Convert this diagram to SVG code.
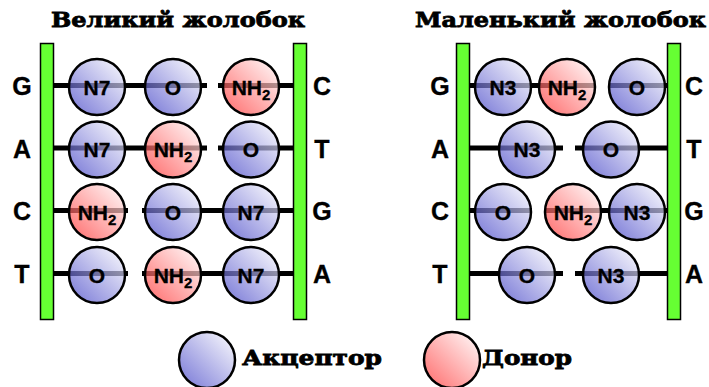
<svg xmlns="http://www.w3.org/2000/svg" width="709" height="387" viewBox="0 0 709 387">
<defs>
<linearGradient id="gb" x1="0" y1="1" x2="1" y2="0">
<stop offset="0" stop-color="#3a3ac4"/>
<stop offset="1" stop-color="#ffffff"/>
</linearGradient>
<linearGradient id="gr" x1="0" y1="1" x2="1" y2="0">
<stop offset="0" stop-color="#ff2a2a"/>
<stop offset="1" stop-color="#ffffff"/>
</linearGradient>
</defs>
<style>
.title{font-family:"DejaVu Serif","Liberation Serif",serif;font-weight:bold;font-size:21px;fill:#000;stroke:#000;stroke-width:0.8}
.base{font-family:"Liberation Sans",Arial,sans-serif;font-weight:bold;font-size:25px;fill:#000;text-anchor:middle;stroke:#000;stroke-width:0.3}
.lbl{font-family:"Liberation Sans",Arial,sans-serif;font-weight:bold;font-size:21px;fill:#000;text-anchor:middle;stroke:#000;stroke-width:0.3}
.sub{font-size:15px}
.bar{fill:#66ff33;stroke:#000;stroke-width:1.5}
.bond{stroke:#000;stroke-width:5;fill:none}
.acc{fill:url(#gb);fill-opacity:0.7;stroke:#000;stroke-width:2.5}
.don{fill:url(#gr);fill-opacity:0.7;stroke:#000;stroke-width:2.5}
</style>
<rect width="709" height="387" fill="#fff"/>
<text class="title" x="51" y="27" textLength="254" lengthAdjust="spacingAndGlyphs">Великий жолобок</text>
<text class="title" x="415" y="27" textLength="291" lengthAdjust="spacingAndGlyphs">Маленький жолобок</text>
<g id="connectors">
<path class="bond" d="M48 85.5H207M218 85.5H296M48 148H207M218 148H296M48 210.5H128M142 210.5H296M48 273.5H128M142 273.5H296"/>
<path class="bond" d="M462 85.5H594M610 85.5H672M462 148H563M575 148H672M462 210.5H532M545 210.5H672M462 273.5H563M575 273.5H672"/>
</g>
<g id="bars">
<rect class="bar" x="40.5" y="43.5" width="13" height="276"/>
<rect class="bar" x="293.5" y="43.5" width="13" height="276"/>
<rect class="bar" x="456.5" y="43.5" width="13" height="276"/>
<rect class="bar" x="667.5" y="43.5" width="13" height="276"/>
</g>
<g id="bases">
<text class="base" x="22" y="95">G</text>
<text class="base" x="22" y="158">A</text>
<text class="base" x="22" y="220">C</text>
<text class="base" x="22" y="283">T</text>
<text class="base" x="322" y="95">C</text>
<text class="base" x="322" y="158">T</text>
<text class="base" x="322" y="220">G</text>
<text class="base" x="322" y="283">A</text>
<text class="base" x="440" y="95">G</text>
<text class="base" x="440" y="158">A</text>
<text class="base" x="440" y="220">C</text>
<text class="base" x="440" y="283">T</text>
<text class="base" x="694" y="95">C</text>
<text class="base" x="694" y="158">T</text>
<text class="base" x="694" y="220">G</text>
<text class="base" x="694" y="283">A</text>
</g>
<g id="major-groove">
<g id="m1a"><circle class="acc" cx="97" cy="87" r="28"/><text class="lbl" x="97" y="94.5">N7</text></g>
<g id="m1b"><circle class="acc" cx="173" cy="87" r="28"/><text class="lbl" x="173" y="94.5">O</text></g>
<g id="m1c"><circle class="don" cx="251" cy="87" r="28"/><text class="lbl" x="251" y="94.5">NH<tspan class="sub" dy="5">2</tspan></text></g>
<g id="m2a"><circle class="acc" cx="97" cy="149.5" r="28"/><text class="lbl" x="97" y="157">N7</text></g>
<g id="m2b"><circle class="don" cx="173" cy="149.5" r="28"/><text class="lbl" x="173" y="157">NH<tspan class="sub" dy="5">2</tspan></text></g>
<g id="m2c"><circle class="acc" cx="251" cy="149.5" r="28"/><text class="lbl" x="251" y="157">O</text></g>
<g id="m3a"><circle class="don" cx="97" cy="212" r="28"/><text class="lbl" x="97" y="219.5">NH<tspan class="sub" dy="5">2</tspan></text></g>
<g id="m3b"><circle class="acc" cx="173" cy="212" r="28"/><text class="lbl" x="173" y="219.5">O</text></g>
<g id="m3c"><circle class="acc" cx="251" cy="212" r="28"/><text class="lbl" x="251" y="219.5">N7</text></g>
<g id="m4a"><circle class="acc" cx="97" cy="275" r="28"/><text class="lbl" x="97" y="282.5">O</text></g>
<g id="m4b"><circle class="don" cx="173" cy="275" r="28"/><text class="lbl" x="173" y="282.5">NH<tspan class="sub" dy="5">2</tspan></text></g>
<g id="m4c"><circle class="acc" cx="251" cy="275" r="28"/><text class="lbl" x="251" y="282.5">N7</text></g>
</g>
<g id="minor-groove">
<g id="n1a"><circle class="acc" cx="503" cy="87" r="28"/><text class="lbl" x="503" y="94.5">N3</text></g>
<g id="n1b"><circle class="don" cx="567" cy="87" r="28"/><text class="lbl" x="567" y="94.5">NH<tspan class="sub" dy="5">2</tspan></text></g>
<g id="n1c"><circle class="acc" cx="637" cy="87" r="28"/><text class="lbl" x="637" y="94.5">O</text></g>
<g id="n2a"><circle class="acc" cx="527" cy="149.5" r="28"/><text class="lbl" x="527" y="157">N3</text></g>
<g id="n2b"><circle class="acc" cx="611" cy="149.5" r="28"/><text class="lbl" x="611" y="157">O</text></g>
<g id="n3a"><circle class="acc" cx="503" cy="212" r="28"/><text class="lbl" x="503" y="219.5">O</text></g>
<g id="n3b"><circle class="don" cx="573" cy="212" r="28"/><text class="lbl" x="573" y="219.5">NH<tspan class="sub" dy="5">2</tspan></text></g>
<g id="n3c"><circle class="acc" cx="637" cy="212" r="28"/><text class="lbl" x="637" y="219.5">N3</text></g>
<g id="n4a"><circle class="acc" cx="527" cy="275" r="28"/><text class="lbl" x="527" y="282.5">O</text></g>
<g id="n4b"><circle class="acc" cx="611" cy="275" r="28"/><text class="lbl" x="611" y="282.5">N3</text></g>
</g>
<g id="legend">
<g id="leg-acc"><circle class="acc" cx="207" cy="360" r="28"/><text class="title" x="242" y="365" textLength="140" lengthAdjust="spacingAndGlyphs">Акцептор</text></g>
<g id="leg-don"><circle class="don" cx="452" cy="360" r="28"/><text class="title" x="482" y="365" textLength="90" lengthAdjust="spacingAndGlyphs">Донор</text></g>
</g>
</svg>
